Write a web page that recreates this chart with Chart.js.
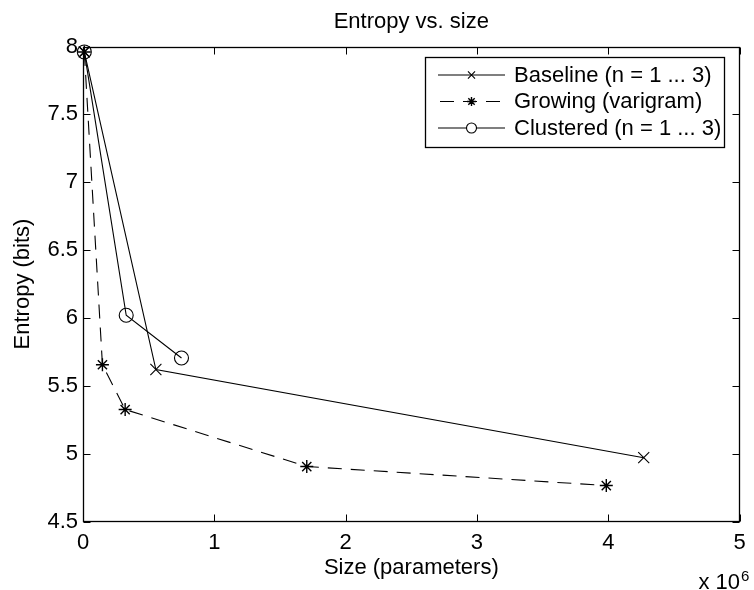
<!DOCTYPE html>
<html>
<head>
<meta charset="utf-8">
<script src="https://cdn.jsdelivr.net/npm/chart.js@4/dist/chart.umd.min.js"></script>
<style>
  html, body { margin: 0; padding: 0; background: #fff; }
  canvas { display: block; }
</style>
</head>
<body>
<canvas id="entropyChart" width="754" height="590"></canvas>
<script>
// values (size in parameters, entropy in bits)
const seriesNames = ['Baseline (n = 1 ... 3)', 'Growing (varigram)', 'Clustered (n = 1 ... 3)'];
const sizeBaseline = [10000, 555000, 4270000];
const entropyBaseline = [7.96, 5.62, 4.97];
const sizeGrowing = [10000, 148000, 321000, 1704000, 3985000];
const entropyGrowing = [7.96, 5.655, 5.325, 4.905, 4.765];
const sizeClustered = [10000, 329000, 750000];
const entropyClustered = [7.96, 6.02, 5.705];

const xTickValues = [0, 1000000, 2000000, 3000000, 4000000, 5000000];
const xTickLabels = ['0', '1', '2', '3', '4', '5'];
const yTickValues = [4.5, 5, 5.5, 6, 6.5, 7, 7.5, 8];
const yTickLabels = ['4.5', '5', '5.5', '6', '6.5', '7', '7.5', '8'];

const FONT = "'Liberation Sans', Arial, Helvetica, sans-serif";
Chart.defaults.font.family = FONT;
Chart.defaults.font.size = 22;
Chart.defaults.color = '#000';

function toPoints(xs, ys) {
    return xs.map((x, i) => ({ x: x, y: ys[i] }));
}

// draws one marker the way MATLAB does (unfilled)
function drawMarker(ctx, style, x, y, r) {
    ctx.beginPath();
    if (style === 'circle') {
        ctx.arc(x, y, r, 0, Math.PI * 2);
    } else if (style === 'crossRot') {
        const d = r * Math.SQRT1_2;
        ctx.moveTo(x - d, y - d); ctx.lineTo(x + d, y + d);
        ctx.moveTo(x - d, y + d); ctx.lineTo(x + d, y - d);
    } else if (style === 'star') {
        const d = r * Math.SQRT1_2;
        ctx.moveTo(x - r, y); ctx.lineTo(x + r, y);
        ctx.moveTo(x, y - r); ctx.lineTo(x, y + r);
        ctx.moveTo(x - d, y - d); ctx.lineTo(x + d, y + d);
        ctx.moveTo(x - d, y + d); ctx.lineTo(x + d, y - d);
    }
    ctx.stroke();
}

// box around the axes with inward ticks on all four sides, plus the x 10^6 note
const matlabAxes = {
    id: 'matlabAxes',
    beforeDatasetsDraw(chart) {
        const ctx = chart.ctx;
        const a = chart.chartArea;
        const xs = chart.scales.x, ys = chart.scales.y;
        const L = Math.round(a.left) + 0.5, R = Math.round(a.right) - 0.5;
        const T = Math.round(a.top) + 0.5, B = Math.round(a.bottom) - 0.5;
        const len = 7;
        ctx.save();
        ctx.strokeStyle = '#000';
        ctx.lineWidth = 1.3;
        ctx.strokeRect(L, T, R - L, B - T);
        ctx.lineWidth = 1;
        ctx.beginPath();
        xTickValues.forEach(v => {
            const px = Math.round(xs.getPixelForValue(v)) + 0.5;
            ctx.moveTo(px, B); ctx.lineTo(px, B - len);
            ctx.moveTo(px, T); ctx.lineTo(px, T + len);
        });
        yTickValues.forEach(v => {
            const py = Math.round(ys.getPixelForValue(v)) + 0.5;
            ctx.moveTo(L, py); ctx.lineTo(L + len, py);
            ctx.moveTo(R, py); ctx.lineTo(R - len, py);
        });
        ctx.stroke();

        // exponent note under the right end of the x axis
        ctx.fillStyle = '#000';
        ctx.textBaseline = 'alphabetic';
        ctx.textAlign = 'right';
        ctx.font = '22px ' + FONT;
        ctx.fillText('x 10', 740, 589);
        ctx.textAlign = 'left';
        ctx.font = '15px ' + FONT;
        ctx.fillText('6', 741, 581);
        ctx.restore();
    }
};

// legend box drawn MATLAB style: line sample with marker in the middle
const matlabLegend = {
    id: 'matlabLegend',
    afterDraw(chart) {
        const ctx = chart.ctx;
        const box = { x: 425.5, y: 57.5, w: 299, h: 90 };
        const rowY = [74.5, 101, 127.5];
        const legendR = { crossRot: 5, star: 4.5, circle: 5 };
        ctx.save();
        ctx.fillStyle = '#fff';
        ctx.fillRect(box.x, box.y, box.w, box.h);
        ctx.strokeStyle = '#000';
        ctx.lineWidth = 1.3;
        ctx.strokeRect(box.x, box.y, box.w, box.h);
        chart.data.datasets.forEach((ds, i) => {
            const y = rowY[i] + 0.5;
            ctx.lineWidth = 1.1;
            ctx.setLineDash(ds.borderDash || []);
            ctx.lineDashOffset = ds.borderDash ? -2 : 0;
            ctx.beginPath();
            ctx.moveTo(438, y);
            ctx.lineTo(505, y);
            ctx.stroke();
            ctx.setLineDash([]);
            if (ds.pointStyle === 'circle') {
                ctx.fillStyle = '#fff';
                ctx.beginPath();
                ctx.arc(471.5, y, legendR.circle, 0, Math.PI * 2);
                ctx.fill();
            }
            ctx.lineWidth = ds.pointBorderWidth;
            drawMarker(ctx, ds.pointStyle, 471.5, y, legendR[ds.pointStyle]);
            ctx.fillStyle = '#000';
            ctx.font = '22px ' + FONT;
            ctx.textAlign = 'left';
            ctx.textBaseline = 'middle';
            ctx.fillText(ds.label, 514, rowY[i] + 1);
        });
        ctx.restore();
    }
};

const ctx = document.getElementById('entropyChart').getContext('2d');
new Chart(ctx, {
    type: 'line',
    data: {
        datasets: [
            {
                label: seriesNames[0],
                data: toPoints(sizeBaseline, entropyBaseline),
                borderColor: '#000',
                borderWidth: 1.1,
                pointStyle: 'crossRot',
                pointRadius: 7.8,
                pointBorderColor: '#000',
                pointBorderWidth: 1.1,
                pointBackgroundColor: 'rgba(0,0,0,0)',
                tension: 0,
                clip: false
            },
            {
                label: seriesNames[1],
                data: toPoints(sizeGrowing, entropyGrowing),
                borderColor: '#000',
                borderWidth: 1.1,
                borderDash: [14, 9],
                pointStyle: 'star',
                pointRadius: 6.5,
                pointBorderColor: '#000',
                pointBorderWidth: 1.4,
                pointBackgroundColor: 'rgba(0,0,0,0)',
                tension: 0,
                clip: false
            },
            {
                label: seriesNames[2],
                data: toPoints(sizeClustered, entropyClustered),
                borderColor: '#000',
                borderWidth: 1.1,
                pointStyle: 'circle',
                pointRadius: 7,
                pointBorderColor: '#000',
                pointBorderWidth: 1.1,
                pointBackgroundColor: 'rgba(0,0,0,0)',
                tension: 0,
                clip: false
            }
        ]
    },
    options: {
        responsive: false,
        animation: false,
        events: [],
        layout: { padding: { left: 0, right: 7, top: 0, bottom: 0 } },
        plugins: {
            legend: { display: false },
            tooltip: { enabled: false },
            title: {
                display: true,
                text: 'Entropy vs. size',
                fullSize: false,
                color: '#000',
                font: { size: 22, weight: 'normal' },
                padding: { top: 8.5, bottom: 11.6 }
            }
        },
        scales: {
            x: {
                type: 'linear',
                min: 0,
                max: 5000000,
                grid: { display: false, drawTicks: false },
                border: { display: false },
                afterBuildTicks: s => { s.ticks = xTickValues.map(v => ({ value: v })); },
                afterFit: s => { s.height = 68.5; },
                ticks: {
                    padding: 8.3,
                    maxRotation: 0,
                    autoSkip: false,
                    callback: (v, i) => xTickLabels[i]
                },
                title: {
                    display: true,
                    text: 'Size (parameters)',
                    padding: { top: 0, bottom: 8.8 }
                }
            },
            y: {
                type: 'linear',
                min: 4.5,
                max: 8,
                grid: { display: false, drawTicks: false },
                border: { display: false },
                afterBuildTicks: s => { s.ticks = yTickValues.map(v => ({ value: v })); },
                afterFit: s => { s.width = 83; },
                ticks: {
                    padding: 5,
                    autoSkip: false,
                    callback: (v, i) => yTickLabels[i]
                },
                title: {
                    display: true,
                    text: 'Entropy (bits)',
                    padding: { top: 9.8, bottom: 0 }
                }
            }
        }
    },
    plugins: [matlabAxes, matlabLegend]
});
</script>
</body>
</html>
